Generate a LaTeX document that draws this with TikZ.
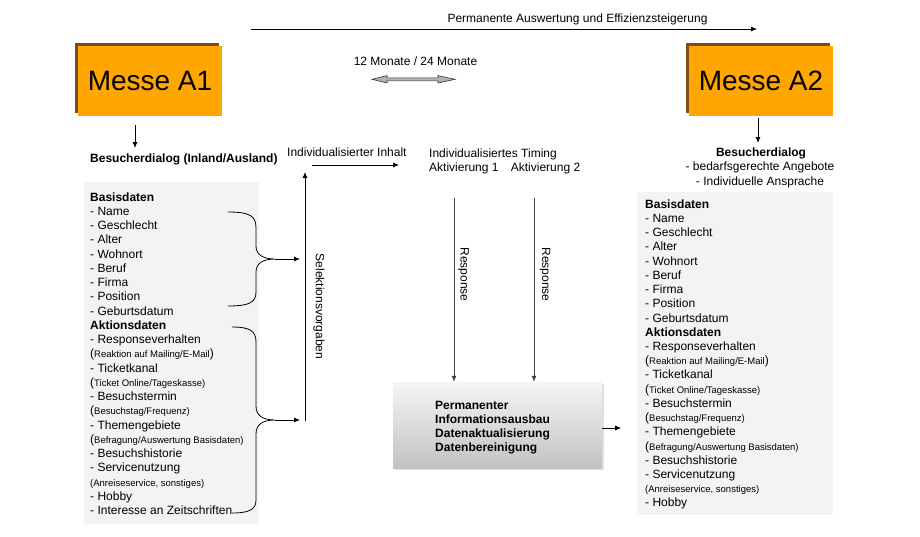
\documentclass[tikz,border=0pt]{standalone}
\usepackage{fontspec}
\setmainfont{Liberation Sans}
\usepackage{xcolor}
\usepackage{tikz}
\usetikzlibrary{arrows.meta,positioning,shadows}

\definecolor{messeorange}{RGB}{255,167,0}
\definecolor{listgrau}{RGB}{243,243,243}

\newcommand{\klein}[1]{({\fontsize{9.5}{10}\selectfont #1)}}
\newcommand{\datenliste}{{\textbf{Basisdaten}}, - Name, - Geschlecht, - Alter, - Wohnort, - Beruf, - Firma, - Position, - Geburtsdatum, {\textbf{Aktionsdaten}}, - Responseverhalten, {({\fontsize{9.5}{10}\selectfont Reaktion auf Mailing/E-Mail})}, - Ticketkanal, {\klein{Ticket Online/Tageskasse}}, - Besuchstermin, {\klein{Besuchstag/Frequenz}}, - Themengebiete, {\klein{Befragung/Auswertung Basisdaten}}, - Besuchshistorie, - Servicenutzung, {{\fontsize{9.5}{10}\selectfont (Anreiseservice, sonstiges)}}, - Hobby}

\tikzset{
  txt/.style={inner sep=0, anchor=base west, font=\fontsize{12}{14}\selectfont},
  fett/.style={txt, font=\fontsize{12}{14}\selectfont\bfseries},
  messe/.style={fill=messeorange, minimum width=144pt, minimum height=70pt, inner sep=0,
    font=\fontsize{28}{30}\selectfont,
    drop shadow={shadow xshift=-3pt, shadow yshift=3pt, fill=orange!45!black, opacity=0.9}},
  pfeil/.style={-{Latex[length=6pt,width=5pt]}, line width=0.8pt},
  klammer/.style={line width=0.8pt},
}

\begin{document}
\begin{tikzpicture}[x=1pt,y=-1pt]
\useasboundingbox (0,0) rectangle (920,536);

% Zeitachse oben
\coordinate (zeit1) at (251,29);
\coordinate (zeit2) at (757,29);
\draw[pfeil] (zeit1) -- (zeit2);
\node[txt, anchor=base] (auswertung) at (577.5,22.7) {Permanente Auswertung und Effizienzsteigerung};
\node[txt, anchor=base] (monate) at (415.5,65) {12 Monate / 24 Monate};
\draw[fill=black!30, draw=black!80, line width=0.6pt] (372,79.3) -- (387,75.6) -- (387,77.8) -- (438,77.8) -- (438,75.6) -- (455,79.3)
  -- (438,83) -- (438,80.8) -- (387,80.8) -- (387,83) -- cycle;

% Messen
\node[messe] (m1) at (150,81) {Messe A1};
\node[messe] (m2) at (761,81) {Messe A2};

\coordinate (m1a) at (135,125);
\coordinate (m1b) at (135,148);
\draw[pfeil] (m1a) -- (m1b);
\coordinate (m2a) at (758,118);
\coordinate (m2b) at (758,143);
\draw[pfeil] (m2a) -- (m2b);

\node[fett] (dialog1) at (90,162.7) {Besucherdialog (Inland/Ausland)};
\node[fett, anchor=base] (dialog2) at (761,156.7) {Besucherdialog};
\node[txt, anchor=base] (angebote) at (760,170.5) {- bedarfsgerechte Angebote};
\node[txt, anchor=base] (ansprache) at (760,185) {- Individuelle Ansprache};

% Datenlisten
\fill[listgrau] (84,182) rectangle (259,524);
\fill[listgrau] (637,192) rectangle (833,515);

\foreach \zeile [count=\i from 0] in \datenliste {
  \node[txt] (links\i) at (90,201+14.25*\i) {\zeile};
}
\node[txt] (links22) at (90,514.5) {- Interesse an Zeitschriften};

\foreach \zeile [count=\i from 0] in \datenliste {
  \node[txt] (rechts\i) at (645,208.3+14.22*\i) {\zeile};
}

% Klammern
\coordinate (k1) at (275,259);
\coordinate (k2) at (275,420);
\draw[klammer] (228,212) .. controls (250,212) and (256,216) .. (256,228) -- (256,246) .. controls (256,254) and (262,259) .. (k1)
  .. controls (262,259) and (256,264) .. (256,272) -- (256,292) .. controls (256,302) and (250,306) .. (228,306);
\draw[klammer] (232,327) .. controls (250,327) and (256,331) .. (256,342) -- (256,406) .. controls (256,415) and (262,420) .. (k2)
  .. controls (262,420) and (256,425) .. (256,434) -- (256,500) .. controls (256,509) and (250,513) .. (232,513);

% Selektion
\coordinate (selo) at (305,172);
\coordinate (selu) at (305,421);
\draw[pfeil] (selu) -- (selo);
\draw[pfeil] (k1) -- ([xshift=-5pt]k1 -| selu);
\draw[pfeil] (k2) -- ([xshift=-5pt]k2 -| selu);
\node[txt, anchor=center, rotate=-90] (selektion) at (319,306.5) {Selektionsvorgaben};

% Inhalt und Timing
\node[txt] (inhalt) at (287,156.7) {Individualisierter Inhalt};
\coordinate (ih1) at (312,165);
\coordinate (ih2) at (399,165);
\draw[pfeil] (ih1) -- (ih2);
\node[txt] (timing) at (429,157) {Individualisiertes Timing};
\node[txt] (akt1) at (429,171.5) {Aktivierung 1};
\node[txt] (akt2) at (510.7,171.5) {Aktivierung 2};

% Datenpflege
\node[minimum width=209pt, minimum height=86pt, inner sep=0, top color=black!4, bottom color=black!24,
  drop shadow={shadow xshift=2pt, shadow yshift=-2pt, opacity=0.25}] (info) at (497.5,425) {};
\foreach \zeile [count=\i from 0] in {Permanenter, Informationsausbau, Datenaktualisierung, Datenbereinigung} {
  \node[fett] (info\i) at (435,409.3+14.2*\i) {\zeile};
}

\coordinate (r1) at (454,198);
\coordinate (r2) at (534,198);
\draw[pfeil, black!75] (r1) -- (r1 |- info.north);
\draw[pfeil, black!75] (r2) -- (r2 |- info.north);
\node[txt, anchor=center, rotate=-90] (resp1) at (463.5,274.5) {Response};
\node[txt, anchor=center, rotate=-90] (resp2) at (545,274.5) {Response};

\draw[pfeil] ([yshift=-3pt]info.east) -- +(19,0);
\end{tikzpicture}
\end{document}
